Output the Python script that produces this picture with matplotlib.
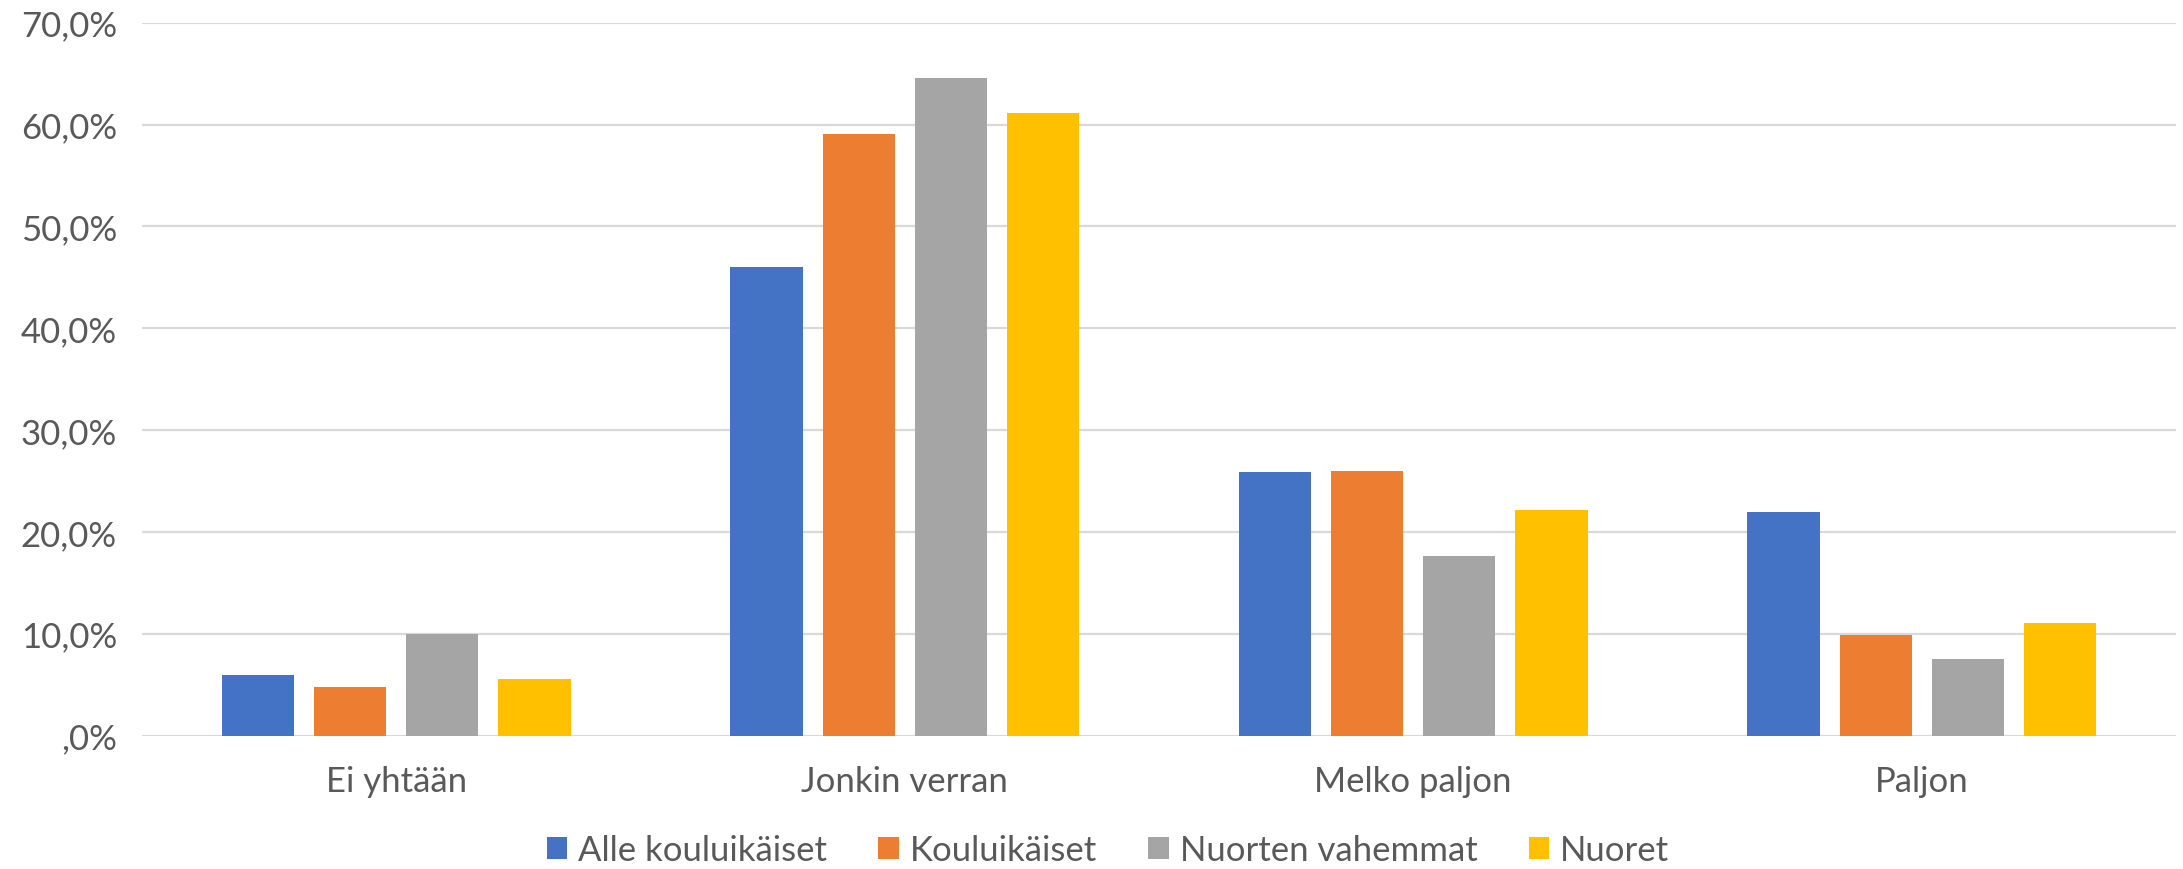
import matplotlib
matplotlib.use("Agg")
import matplotlib.pyplot as plt
import numpy as np
from matplotlib.patches import Patch

categories = ["Ei yhtään", "Jonkin verran", "Melko paljon", "Paljon"]
series_names = ["Alle kouluikäiset", "Kouluikäiset", "Nuorten vahemmat", "Nuoret"]
alle_kouluikaiset = [5.9, 46.0, 25.9, 21.9]
kouluikaiset = [4.8, 59.1, 26.0, 9.9]
nuorten_vahemmat = [10.0, 64.6, 17.6, 7.5]
nuoret = [5.5, 61.1, 22.1, 11.0]
y_ticks = [0, 10, 20, 30, 40, 50, 60, 70]
y_tick_labels = [",0%", "10,0%", "20,0%", "30,0%", "40,0%", "50,0%", "60,0%", "70,0%"]

series = [alle_kouluikaiset, kouluikaiset, nuorten_vahemmat, nuoret]
colors = ["#4472C4", "#ED7D31", "#A5A5A5", "#FFC000"]
text_color = "#595959"
grid_color = "#D9D9D9"

plt.rcParams["font.family"] = ["Lato", "DejaVu Sans"]
FS = 25

fig = plt.figure(figsize=(21.83, 8.70), dpi=100)
ax = fig.add_axes([142 / 2183, 1 - 736.5 / 870, (2176 - 142) / 2183, (736.5 - 23.7) / 870])

x = np.arange(len(categories))
bar_w = 0.1425
step = 0.181
for i, (vals, col) in enumerate(zip(series, colors)):
    offs = (i - 1.5) * step
    ax.bar(x + offs, vals, width=bar_w, color=col, zorder=3, linewidth=0)

ax.set_xlim(-0.5, len(categories) - 0.5)
ax.set_ylim(0, 70)
ax.set_yticks(y_ticks)
ax.set_yticklabels(y_tick_labels)
ax.set_xticks(x)
ax.set_xticklabels(categories)

for y in y_ticks:
    ax.axhline(y, color=grid_color, linewidth=1.6, zorder=1)

for s in ax.spines.values():
    s.set_visible(False)
ax.tick_params(axis="both", length=0, labelsize=FS, labelcolor=text_color)
ax.tick_params(axis="y", pad=18)
ax.tick_params(axis="x", pad=21)

handles = [Patch(facecolor=c, edgecolor="none") for c in colors]
fig.legend(handles, series_names, loc="center", bbox_to_anchor=(1108 / 2183, 1 - 851 / 870),
           ncol=4, frameon=False, fontsize=FS, labelcolor=text_color,
           handlelength=0.58, handleheight=0.58, handletextpad=0.32, columnspacing=1.48,
           borderaxespad=0, borderpad=0)

fig.savefig("out.png", dpi=100)
